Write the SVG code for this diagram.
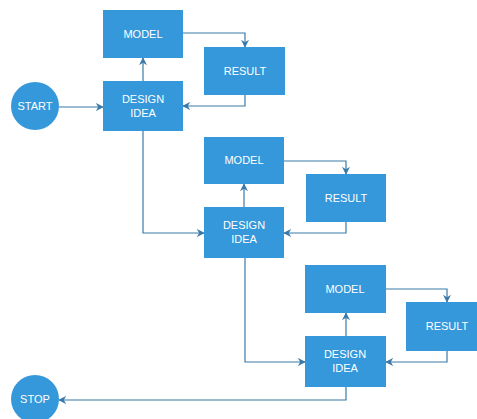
<svg xmlns="http://www.w3.org/2000/svg" width="477" height="419" viewBox="0 0 477 419">
  <style>
    .box { fill: #3598db; }
    .lbl { fill: #ffffff; font-family: "Liberation Sans", Arial, sans-serif; font-size: 11px; text-anchor: middle; }
    .wire { fill: none; stroke: #3a7aaa; stroke-width: 1.2; marker-end: url(#arrow); }
  </style>
  <defs>
    <marker id="arrow" viewBox="0 0 10 10" refX="9" refY="5" markerWidth="8" markerHeight="8" markerUnits="userSpaceOnUse" orient="auto">
      <path d="M0,0 L10,5 L0,10 L3,5 Z" fill="#3a7aaa"/>
    </marker>
  </defs>
  <rect width="477" height="419" fill="#ffffff"/>

  <g id="connectors">
    <path class="wire" d="M59,107 H103"/>
    <path class="wire" d="M143,81 V58"/>
    <path class="wire" d="M183,33 H245 V47"/>
    <path class="wire" d="M245,95 V106 H183"/>
    <path class="wire" d="M143,131 V233 H204"/>
    <path class="wire" d="M244,207 V184"/>
    <path class="wire" d="M284,161 H346 V174"/>
    <path class="wire" d="M346,222 V233 H284"/>
    <path class="wire" d="M245,258 V362 H305"/>
    <path class="wire" d="M346,336 V313"/>
    <path class="wire" d="M386,289 H447 V302"/>
    <path class="wire" d="M447,351 V362 H386"/>
    <path class="wire" d="M346,387 V400 H59"/>
  </g>

  <g id="start">
    <circle class="box" cx="35" cy="106" r="24"/>
    <text class="lbl" x="35" y="110">START</text>
  </g>
  <g id="model1">
    <rect class="box" x="103" y="10" width="80" height="48"/>
    <text class="lbl" x="143" y="38">MODEL</text>
  </g>
  <g id="result1">
    <rect class="box" x="204" y="47" width="81" height="48"/>
    <text class="lbl" x="245" y="75">RESULT</text>
  </g>
  <g id="design1">
    <rect class="box" x="103" y="81" width="80" height="50"/>
    <text class="lbl" x="143" y="103">DESIGN</text>
    <text class="lbl" x="143" y="117">IDEA</text>
  </g>

  <g id="model2">
    <rect class="box" x="204" y="137" width="80" height="47"/>
    <text class="lbl" x="244" y="164">MODEL</text>
  </g>
  <g id="result2">
    <rect class="box" x="306" y="174" width="80" height="48"/>
    <text class="lbl" x="346" y="202">RESULT</text>
  </g>
  <g id="design2">
    <rect class="box" x="204" y="207" width="80" height="51"/>
    <text class="lbl" x="244" y="229">DESIGN</text>
    <text class="lbl" x="244" y="243">IDEA</text>
  </g>

  <g id="model3">
    <rect class="box" x="305" y="265" width="81" height="48"/>
    <text class="lbl" x="345" y="293">MODEL</text>
  </g>
  <g id="result3">
    <rect class="box" x="406" y="302" width="80" height="49"/>
    <text class="lbl" x="447" y="330">RESULT</text>
  </g>
  <g id="design3">
    <rect class="box" x="305" y="336" width="81" height="51"/>
    <text class="lbl" x="345" y="358">DESIGN</text>
    <text class="lbl" x="345" y="372">IDEA</text>
  </g>

  <g id="stop">
    <circle class="box" cx="35" cy="399" r="24"/>
    <text class="lbl" x="35" y="403">STOP</text>
  </g>
</svg>
